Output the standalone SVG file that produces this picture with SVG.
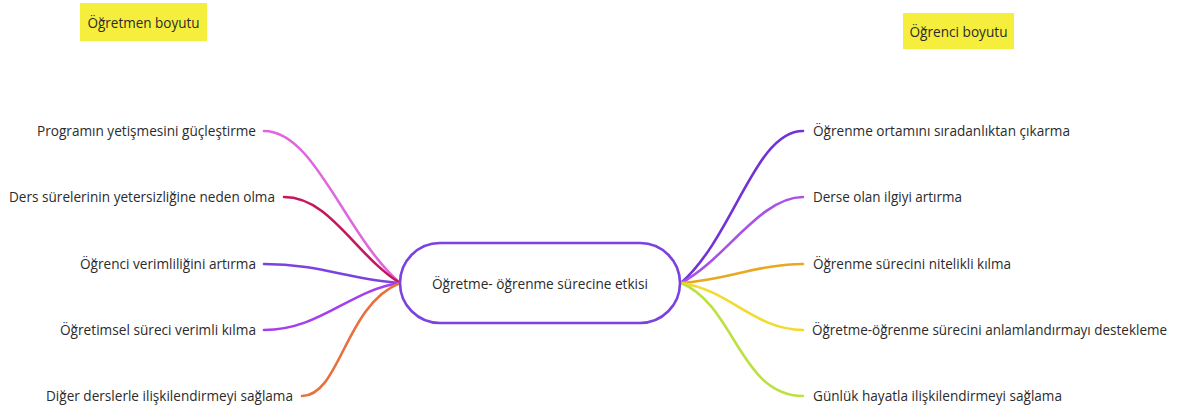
<svg xmlns="http://www.w3.org/2000/svg" width="1178" height="412" viewBox="0 0 1178 412">
  <style>
    text { font-family: "Open Sans", "Noto Sans", sans-serif; font-size: 15px; fill: #2b2b2b; }
    .l { text-anchor: end; }
    .tag { fill: #f6ee3c; }
    .link { fill: none; stroke-width: 2.6; stroke-linecap: round; }
  </style>
  <rect width="1178" height="412" fill="#ffffff"/>

  <!-- side headings -->
  <g id="heading-teacher">
    <rect class="tag" x="80" y="3" width="127" height="38"/>
    <text x="143.5" y="28" text-anchor="middle" textLength="112" lengthAdjust="spacingAndGlyphs">Öğretmen boyutu</text>
  </g>
  <g id="heading-student">
    <rect class="tag" x="903" y="13" width="111" height="36"/>
    <text x="958.5" y="37" text-anchor="middle" textLength="98" lengthAdjust="spacingAndGlyphs">Öğrenci boyutu</text>
  </g>

  <!-- connectors -->
  <g id="connectors">
    <path class="link" stroke="#e066de" d="M264,131 C315,131 345,235 400,283"/>
    <path class="link" stroke="#c4175c" d="M284,197 C330,197 355,255 400,283"/>
    <path class="link" stroke="#7b42e0" d="M264,264 C320,264 350,280 400,283"/>
    <path class="link" stroke="#a43ff0" d="M264,330 C320,330 350,290 400,283"/>
    <path class="link" stroke="#e8703e" d="M302,396 C340,396 345,305 400,283"/>

    <path class="link" stroke="#7232d6" d="M681,283 C735,235 755,131 803,131"/>
    <path class="link" stroke="#a853e4" d="M681,283 C725,260 760,197 803,197"/>
    <path class="link" stroke="#eaa820" d="M681,283 C725,280 760,264 803,264"/>
    <path class="link" stroke="#f2da2e" d="M681,283 C730,290 755,330 803,330"/>
    <path class="link" stroke="#bde042" d="M681,283 C735,305 740,396 803,396"/>
  </g>

  <!-- central node -->
  <g id="center">
    <rect x="400" y="243" width="280" height="80" rx="40" ry="40" fill="#ffffff" stroke="#7b42e0" stroke-width="2.6"/>
    <text x="540" y="289" text-anchor="middle" textLength="216" lengthAdjust="spacingAndGlyphs">Öğretme- öğrenme sürecine etkisi</text>
  </g>

  <!-- teacher side -->
  <g id="t1"><text class="l" x="256" y="136" textLength="219" lengthAdjust="spacingAndGlyphs">Programın yetişmesini güçleştirme</text></g>
  <g id="t2"><text class="l" x="275" y="202" textLength="266" lengthAdjust="spacingAndGlyphs">Ders sürelerinin yetersizliğine neden olma</text></g>
  <g id="t3"><text class="l" x="256" y="269" textLength="176" lengthAdjust="spacingAndGlyphs">Öğrenci verimliliğini artırma</text></g>
  <g id="t4"><text class="l" x="256" y="335" textLength="196" lengthAdjust="spacingAndGlyphs">Öğretimsel süreci verimli kılma</text></g>
  <g id="t5"><text class="l" x="293" y="401" textLength="247" lengthAdjust="spacingAndGlyphs">Diğer derslerle ilişkilendirmeyi sağlama</text></g>

  <!-- student side -->
  <g id="s1"><text x="813" y="136" textLength="257" lengthAdjust="spacingAndGlyphs">Öğrenme ortamını sıradanlıktan çıkarma</text></g>
  <g id="s2"><text x="813" y="202" textLength="149" lengthAdjust="spacingAndGlyphs">Derse olan ilgiyi artırma</text></g>
  <g id="s3"><text x="813" y="269" textLength="198" lengthAdjust="spacingAndGlyphs">Öğrenme sürecini nitelikli kılma</text></g>
  <g id="s4"><text x="812" y="335" textLength="355" lengthAdjust="spacingAndGlyphs">Öğretme-öğrenme sürecini anlamlandırmayı destekleme</text></g>
  <g id="s5"><text x="813" y="401" textLength="249" lengthAdjust="spacingAndGlyphs">Günlük hayatla ilişkilendirmeyi sağlama</text></g>
</svg>
